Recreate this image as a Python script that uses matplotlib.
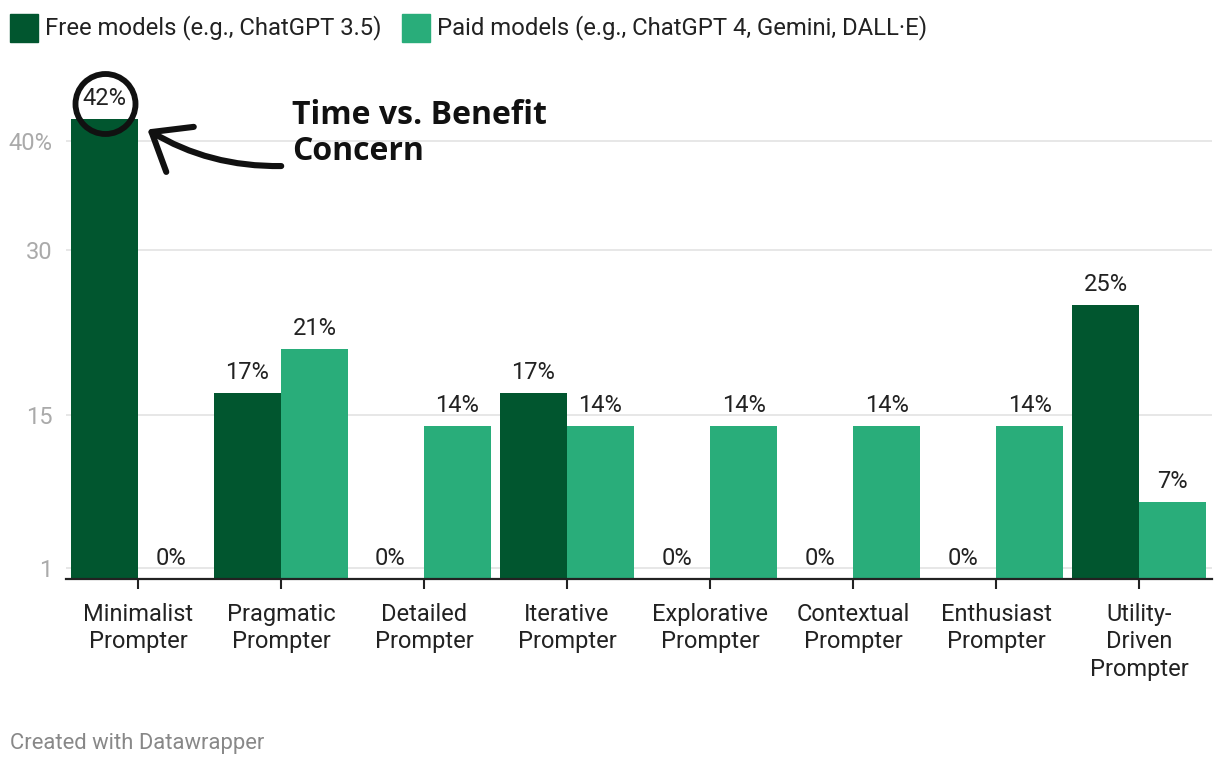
import matplotlib.pyplot as plt
import numpy as np
from matplotlib.patches import Rectangle, Ellipse

categories = ["Minimalist\nPrompter", "Pragmatic\nPrompter", "Detailed\nPrompter",
              "Iterative\nPrompter", "Explorative\nPrompter", "Contextual\nPrompter",
              "Enthusiast\nPrompter", "Utility-\nDriven\nPrompter"]
free_vals = [42, 17, 0, 17, 0, 0, 0, 25]
paid_vals = [0, 21, 14, 14, 14, 14, 14, 7]
series_names = ["Free models (e.g., ChatGPT 3.5)", "Paid models (e.g., ChatGPT 4, Gemini, DALL·E)"]
y_ticks = [1, 15, 30, 40]
y_ticklabels = ["1", "15", "30", "40%"]

dark = "#01562f"
light = "#29ad7a"

plt.rcParams["font.family"] = ["Roboto", "DejaVu Sans"]

W, H = 1220, 766
fig = plt.figure(figsize=(W / 100, H / 100), dpi=100)
ax = fig.add_axes([66 / W, 1 - 579 / H, (1212 - 66) / W, (579 - 86) / H])

x = np.arange(len(categories))
w = 0.4685
b1 = ax.bar(x - w / 2, free_vals, w, color=dark, zorder=3)
b2 = ax.bar(x + w / 2, paid_vals, w, color=light, zorder=3)

for bars, vals in [(b1, free_vals), (b2, paid_vals)]:
    for rect, v in zip(bars, vals):
        ax.annotate(f"{v}%", (rect.get_x() + rect.get_width() / 2, v),
                    xytext=(0, 6.5), textcoords="offset points",
                    ha="center", va="bottom", fontsize=17, color="#222222", zorder=4)

ax.set_xlim(-0.503, 7.51)
ax.set_ylim(0, 45)
ax.set_yticks(y_ticks)
ax.set_yticklabels(y_ticklabels)
ax.set_xticks(x)
ax.set_xticklabels(categories, fontsize=17, color="#222222", linespacing=1.26)
ax.tick_params(axis="y", length=0, pad=9.5, labelsize=17, labelcolor="#aaaaaa")
ax.tick_params(axis="x", length=7, width=1.5, color="#222222", pad=10)
ax.grid(axis="y", color="#e3e3e3", linewidth=1.2, zorder=0)
for s in ["top", "right", "left"]:
    ax.spines[s].set_visible(False)
ax.spines["bottom"].set_color("#222222")
ax.spines["bottom"].set_linewidth(1.6)
ax.spines["bottom"].set_zorder(5)

# legend
for sx, tx, color, name in [(10, 45, dark, series_names[0]), (402, 437, light, series_names[1])]:
    fig.patches.append(Rectangle((sx / W, 1 - 42 / H), 28 / W, 28 / H,
                                 transform=fig.transFigure, color=color))
    fig.text(tx / W, 1 - 28 / H, name, fontsize=17.2, color="#222222", va="center")

# annotation
fig.patches.append(Ellipse((105.5 / W, 1 - 104 / H), 60 / W, 60 / H, transform=fig.transFigure,
                           fill=False, edgecolor="#111111", linewidth=4.2, zorder=10))
ax.annotate("", xy=(145, H - 128), xycoords="figure pixels",
            xytext=(284, H - 166), textcoords="figure pixels",
            arrowprops=dict(arrowstyle="->, head_length=0.48, head_width=0.38",
                            mutation_scale=50, lw=4.4, color="#111111",
                            connectionstyle="arc3,rad=-0.15"))
fig.text(292 / W, 1 - 160 / H, "Time vs. Benefit\nConcern", fontsize=23, fontweight="bold",
         family=["Open Sans", "DejaVu Sans"], color="#111111", va="baseline", linespacing=1.1)

fig.text(10 / W, 1 - 743 / H, "Created with Datawrapper", fontsize=15.8, color="#888888", va="center")

fig.savefig("out.png", dpi=100)
